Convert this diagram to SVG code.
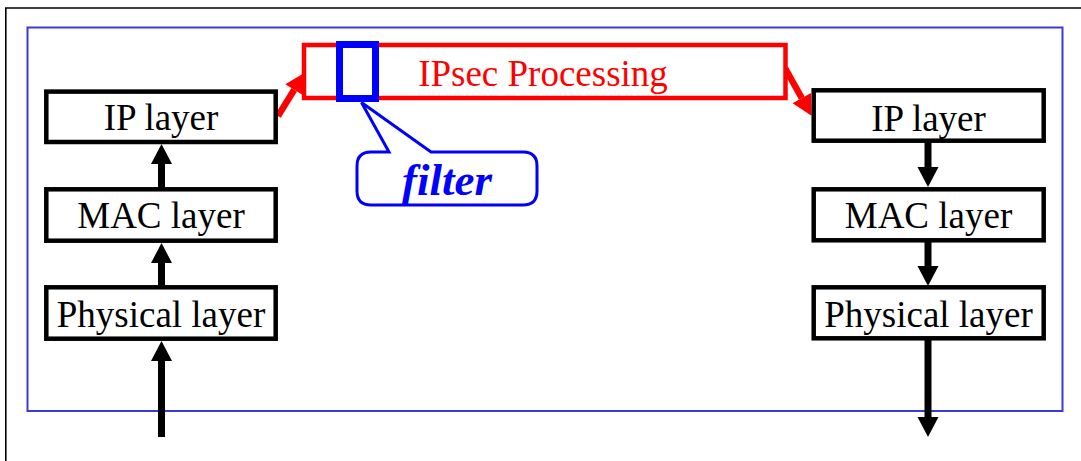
<svg xmlns="http://www.w3.org/2000/svg" width="1081" height="461" viewBox="0 0 1081 461">
<style>
.box{fill:#fff;stroke:#000;stroke-width:4.5}
.lbl{font-family:"Liberation Serif","Times New Roman",serif;font-size:37px;fill:#000;text-anchor:middle}
.flow{fill:none;stroke:#000;stroke-width:7}
.red{fill:none;stroke:#ff0000;stroke-width:6.5}
</style>
<defs>
<marker id="ah" markerUnits="userSpaceOnUse" markerWidth="22" markerHeight="24" refX="0" refY="11" orient="auto" viewBox="0 0 22 22" overflow="visible">
<path d="M0,0.5 L20,11 L0,21.5 z" fill="#000"/>
</marker>
<marker id="ahr" markerUnits="userSpaceOnUse" markerWidth="22" markerHeight="24" refX="0" refY="11" orient="auto" viewBox="0 0 22 22" overflow="visible">
<path d="M0,0.5 L20,11 L0,21.5 z" fill="#ff0000"/>
</marker>
</defs>
<rect width="1081" height="461" fill="#fff"/>
<path d="M1081,8 H5.8 V461" fill="none" stroke="#000" stroke-width="1.6"/>
<rect x="27.5" y="27.5" width="1035" height="383.5" fill="none" stroke="#3a3ad4" stroke-width="2"/>

<g id="connectors">
<path class="flow" d="M161.5,189 V164" marker-end="url(#ah)"/>
<path class="flow" d="M161.5,287 V263" marker-end="url(#ah)"/>
<path class="flow" d="M161.5,437 V361" marker-end="url(#ah)"/>
<path class="flow" d="M928,141 V167" marker-end="url(#ah)"/>
<path class="flow" d="M928,240 V266" marker-end="url(#ah)"/>
<path class="flow" d="M928,338 V417" marker-end="url(#ah)"/>
<path class="red" d="M278,116 L294.2,89.7" marker-end="url(#ahr)"/>
<path class="red" d="M785,68 L801.8,98.2" marker-end="url(#ahr)"/>
</g>

<g id="ip-left"><rect class="box" x="46.3" y="91.6" width="229.4" height="50.4"/><text class="lbl" x="161" y="130">IP layer</text></g>
<g id="mac-left"><rect class="box" x="46.3" y="189.3" width="229.4" height="51.4"/><text class="lbl" x="161" y="228">MAC layer</text></g>
<g id="phy-left"><rect class="box" x="46.3" y="287.3" width="229.4" height="51.4"/><text class="lbl" x="161" y="326.5">Physical layer</text></g>

<g id="ip-right"><rect class="box" x="813.7" y="90.3" width="230" height="50.4"/><text class="lbl" x="928.5" y="130.5">IP layer</text></g>
<g id="mac-right"><rect class="box" x="813.7" y="189.3" width="230" height="51"/><text class="lbl" x="928.5" y="228">MAC layer</text></g>
<g id="phy-right"><rect class="box" x="813.7" y="287.3" width="230" height="51"/><text class="lbl" x="928.5" y="326.5">Physical layer</text></g>

<g id="ipsec">
<rect x="304" y="45" width="481.5" height="53" fill="#fff" stroke="#ff0000" stroke-width="4.5"/>
<text x="543" y="86" font-family="'Liberation Serif','Times New Roman',serif" font-size="37" fill="#ff0000" text-anchor="middle">IPsec Processing</text>
</g>

<g id="filter-box">
<rect x="339.5" y="44.5" width="36" height="54" fill="none" stroke="#0000ff" stroke-width="7"/>
</g>

<g id="filter-callout">
<path d="M389,152 L361.5,102.5 L431,152 H523 Q537,152 537,166 V191 Q537,205 523,205 H371 Q357,205 357,191 V166 Q357,152 371,152 Z" fill="#fff" stroke="#0000ff" stroke-width="3" stroke-linejoin="miter"/>
<text x="447" y="195" font-family="'Liberation Serif','Times New Roman',serif" font-size="45" font-weight="bold" font-style="italic" fill="#0000ff" text-anchor="middle">filter</text>
</g>
</svg>
